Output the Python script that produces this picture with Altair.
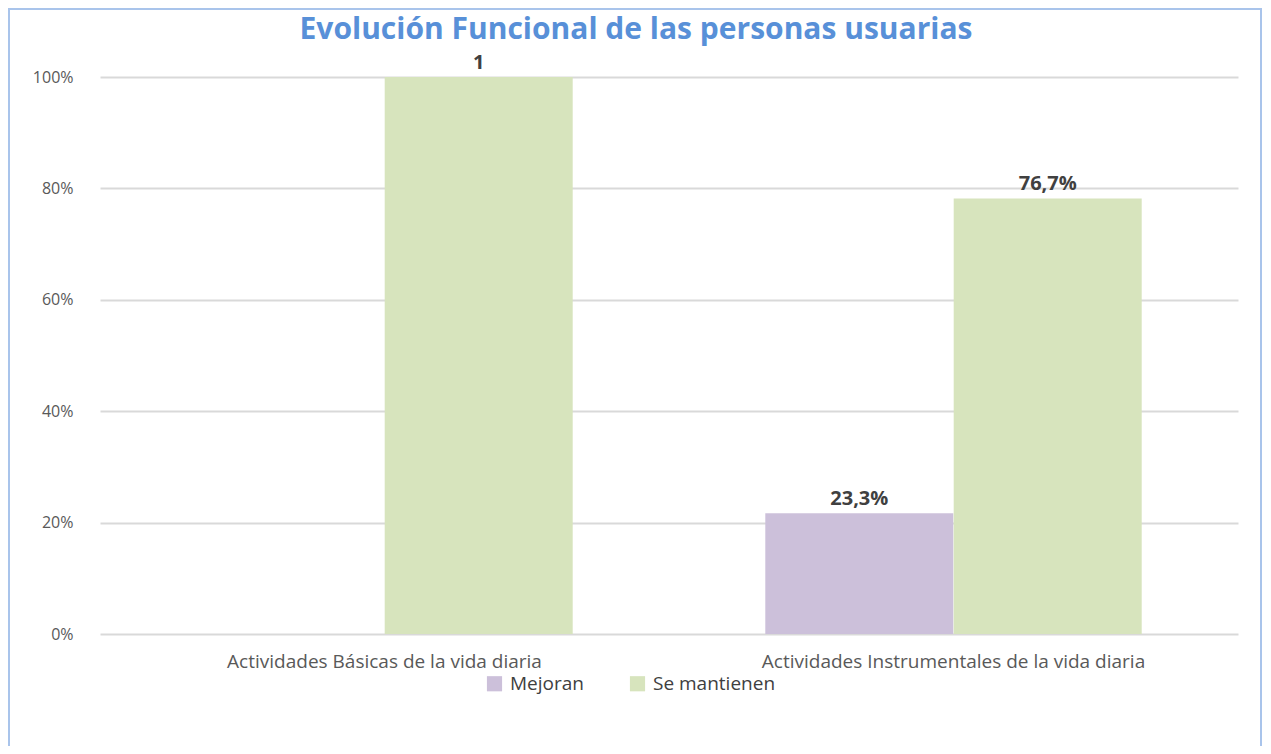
import altair as alt
import pandas as pd

categories = ["Actividades Básicas de la vida diaria", "Actividades Instrumentales de la vida diaria"]
series = ["Mejoran", "Se mantienen"]
mejoran = [0.0, 0.217]
se_mantienen = [1.0, 0.782]
mejoran_labels = ["", "23,3%"]
se_mantienen_labels = ["1", "76,7%"]
y_ticks = [0, 0.2, 0.4, 0.6, 0.8, 1.0]
colors = ["#CCC0DA", "#D7E4BD"]
title_text = "Evolución Funcional de las personas usuarias"

rows = []
for i, c in enumerate(categories):
    rows.append({"cat": c, "serie": series[0], "value": mejoran[i], "label": mejoran_labels[i]})
    rows.append({"cat": c, "serie": series[1], "value": se_mantienen[i], "label": se_mantienen_labels[i]})
df = pd.DataFrame(rows)

FONT = "Open Sans"

x = alt.X(
    "cat:N", sort=categories,
    scale=alt.Scale(paddingInner=0, paddingOuter=0),
    axis=alt.Axis(title=None, labelAngle=0, domain=False, ticks=False, tickSize=0,
                  labelPadding=18, labelFontSize=19, labelColor="#595959",
                  labelFont=FONT, labelLimit=600),
)
xo = alt.XOffset("serie:N", sort=series, scale=alt.Scale(paddingOuter=0.51, paddingInner=0))
y = alt.Y(
    "value:Q", scale=alt.Scale(domain=[0, 1]),
    axis=alt.Axis(values=y_ticks, format=".0%", title=None, domain=False, ticks=False,
                  tickSize=0, labelPadding=27, labelFontSize=16, labelColor="#595959",
                  labelFont=FONT, gridColor="#D9D9D9", gridWidth=2),
)
color = alt.Color(
    "serie:N", sort=series,
    scale=alt.Scale(domain=series, range=colors),
    legend=alt.Legend(title=None, orient="none", legendX=385, legendY=597,
                      direction="horizontal", symbolType="square", symbolSize=230,
                      symbolStrokeWidth=0, labelFontSize=19, labelColor="#404040",
                      labelFont=FONT, columnPadding=44, labelOffset=6),
)

bars = alt.Chart(df).mark_bar(size=188).encode(x=x, xOffset=xo, y=y, color=color)

labels = alt.Chart(df).mark_text(
    baseline="bottom", dy=-4, fontSize=20, fontWeight="bold", color="#404040", font=FONT
).encode(x=x, xOffset=xo, y=y, text="label:N")

border = alt.Chart(pd.DataFrame({"k": [0]})).mark_rect(
    fillOpacity=0, stroke="#A9C4EB", strokeWidth=2
).encode(x=alt.value(-91), x2=alt.value(1161), y=alt.value(-68), y2=alt.value(700))

chart = alt.layer(border, bars, labels).properties(
    width=1138, height=557,
    title=alt.TitleParams(title_text, fontSize=30, color="#5890D8", font=FONT,
                          fontWeight="bold", anchor="middle", dx=-33, offset=-37),
    autosize=alt.AutoSizeParams(type="none"),
    padding={"left": 92, "top": 69, "right": 25, "bottom": 112},
).configure_view(stroke=None)

chart.save("out.html", embed_options={"renderer": "svg", "actions": False})
